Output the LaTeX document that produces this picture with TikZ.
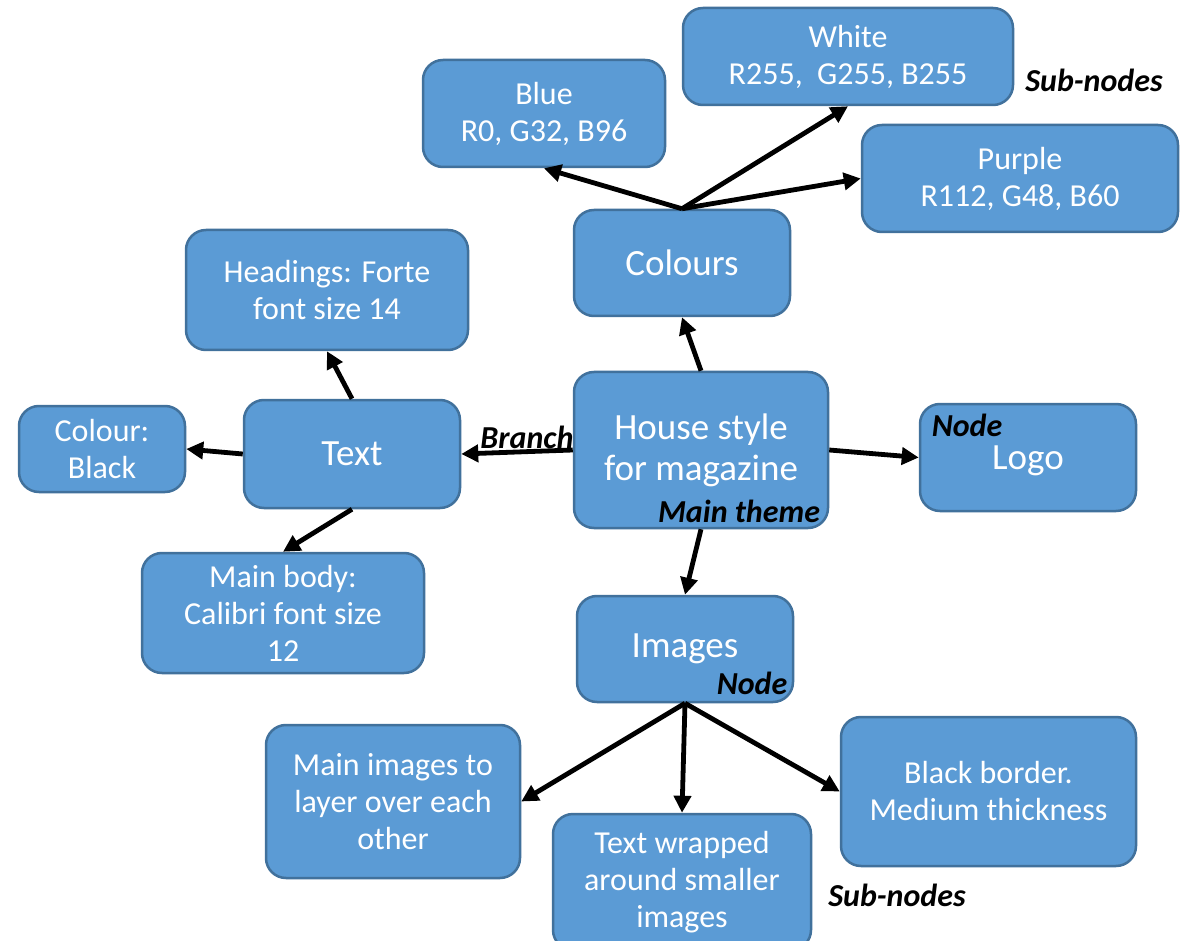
\documentclass[tikz,border=0pt]{standalone}
\usepackage{fontspec}
\setmainfont{Carlito}
\usetikzlibrary{arrows.meta}
\definecolor{boxfill}{HTML}{5B9BD5}
\definecolor{boxline}{HTML}{41719C}
\tikzset{
  box/.style={draw=boxline, line width=2.5pt, fill=boxfill, rounded corners=20pt,
    text=white, align=center, inner sep=0pt, font=\fontsize{32}{37}\selectfont},
  bigbox/.style={box, font=\fontsize{37}{41}\selectfont},
  conn/.style={line width=4.8pt, -{Triangle[length=17pt,width=17pt]}},
  lbl/.style={font=\fontsize{32}{34}\selectfont\bfseries\itshape, text=black, inner sep=0pt}
}
\begin{document}
\begin{tikzpicture}[x=1pt,y=-1pt]
\clip (0,0) rectangle (1192,941);
\fill[white] (0,0) rectangle (1192,941);
% nodes
\node[box, minimum width=242pt, minimum height=107pt] (blue) at (544,113.5) {Blue\\R0, G32, B96};
\node[box, minimum width=330pt, minimum height=97pt] (white) at (848,56.5) {White\\R255,\ \ G255, B255};
\node[box, minimum width=316pt, minimum height=107pt] (purple) at (1020,178.5) {Purple\\R112, G48, B60};
\node[bigbox, minimum width=216pt, minimum height=106pt] (colours) at (682,263) {Colours};
\node[box, minimum width=282pt, minimum height=120pt] (headings) at (327,290) {Headings: Forte\\font size 14};
\node[box, minimum width=166pt, minimum height=86pt] (colour) at (102,449) {Colour:\\Black};
\node[bigbox, minimum width=216pt, minimum height=108pt] (text) at (352,454) {Text};
\node[bigbox, minimum width=254pt, minimum height=156pt] (house) at (701,450) {House style\\for magazine};
\node[bigbox, minimum width=216pt, minimum height=107pt, text depth=-6pt] (logo) at (1028,457.5) {Logo};
\node[box, minimum width=282pt, minimum height=120pt] (mainbody) at (283,613) {Main body:\\Calibri font size\\12};
\node[bigbox, minimum width=216pt, minimum height=106pt] (images) at (685,649) {Images};
\node[box, minimum width=254pt, minimum height=153pt] (mainimg) at (393,801.5) {Main images to\\layer over each\\other};
\node[box, minimum width=258pt, minimum height=136pt] (wrapped) at (682,882) {Text wrapped\\around smaller\\images};
\node[box, minimum width=295pt, minimum height=149pt] (border) at (988.5,791.5) {Black border.\\Medium thickness};
% connectors
\draw[conn] (colours.north) -- (blue.south);
\draw[conn] (colours.north) -- (white.south);
\draw[conn] (colours.north) -- (purple.west);
\draw[conn] (house.north) -- (colours.south);
\draw[conn] (house.west) -- (text.east);
\draw[conn] (house.east) -- (logo.west);
\draw[conn] (house.south) -- (images.north);
\draw[conn] (text.north) -- (headings.south);
\draw[conn] (text.west) -- (colour.east);
\draw[conn] (text.south) -- (mainbody.north);
\draw[conn] (images.south) -- (mainimg.east);
\draw[conn] (images.south) -- (wrapped.north);
\draw[conn] (images.south) -- (border.west);
% labels
\node[lbl] (l1) at (1094,80) {Sub-nodes};
\node[lbl] (l2) at (527,437) {Branch};
\node[lbl] (l3) at (967,425) {Node};
\node[lbl] (l4) at (739,511) {Main theme};
\node[lbl] (l5) at (752,683) {Node};
\node[lbl] (l6) at (897,895) {Sub-nodes};
\end{tikzpicture}
\end{document}
